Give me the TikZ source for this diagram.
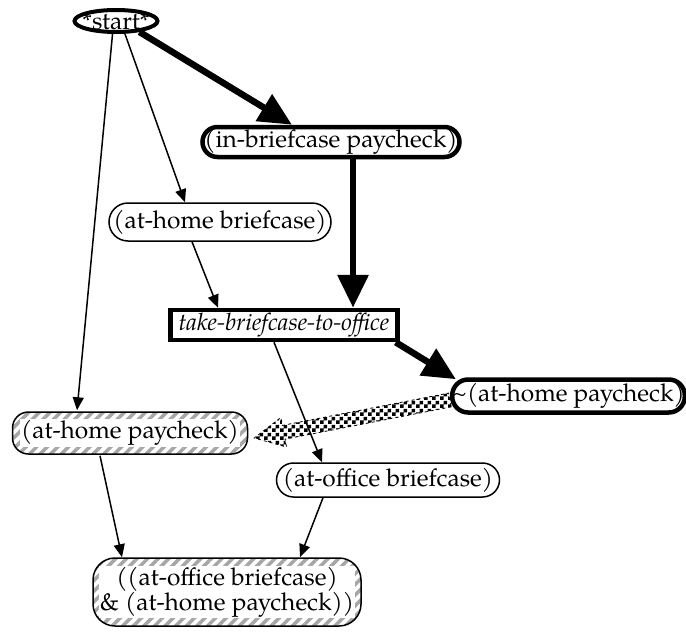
\documentclass[tikz,border=0pt]{standalone}
\usepackage{fontspec}
\setmainfont{texgyrepagella}[Extension=.otf, UprightFont=*-regular, ItalicFont=*-italic, BoldFont=*-bold, BoldItalicFont=*-bolditalic]
\usetikzlibrary{arrows.meta,shapes.geometric,patterns.meta,calc}

% black/white checks for the "negation" link
\pgfdeclarepattern{name=checks, type=uncolored,
  bottom left={\pgfpointorigin}, top right={\pgfpoint{8pt}{8pt}},
  tile size={\pgfpoint{8pt}{8pt}},
  code={\pgfpathrectangle{\pgfpointorigin}{\pgfpoint{4pt}{4pt}}%
        \pgfpathrectangle{\pgfpoint{4pt}{4pt}}{\pgfpoint{4pt}{4pt}}%
        \pgfusepath{fill}}}

\newcommand\lblsize{\fontsize{24.5}{25}\selectfont}

\begin{document}
\begin{tikzpicture}[x=1pt,y=-1pt,
  every node/.style={font=\lblsize},
  pill/.style={draw, line width=1.5pt, rounded corners=18pt, inner sep=0pt},
  boldpill/.style={draw, line width=4.5pt, rounded corners=15pt, inner sep=0pt},
  hatched/.style={draw, line width=1.5pt, rounded corners=16pt, inner sep=0pt,
    pattern={Lines[angle=45,distance=7.5pt,line width=3.5pt]}, pattern color=gray!70},
  textpatch/.style={fill=white, inner sep=1pt},
  link/.style={line width=1.5pt, -{Triangle[length=13pt,width=11pt]}},
  boldlink/.style={line width=6.5pt, -{Triangle[length=33pt,width=30pt]}}]

\useasboundingbox (0,0) rectangle (686,632);

% nodes
\node[draw, ellipse, line width=4pt, minimum width=83pt, minimum height=22pt, inner sep=0pt] (start) at (116,21) {};
\node (startlbl) at (start) {*start*};
\node[boldpill, minimum width=257pt, minimum height=30pt] (inb) at (331,142) {(in-briefcase paycheck)};
\node[pill, minimum width=222pt, minimum height=38pt, rounded corners=19pt] (ahb) at (220,222) {(at-home briefcase)};
\node[draw, line width=4.5pt, minimum width=227pt, minimum height=30pt, inner sep=0pt, font=\fontsize{24}{25}\selectfont\itshape] (take) at (284,325) {take-briefcase-to-office};
\node[boldpill, minimum width=229pt, minimum height=33pt, rounded corners=16pt] (neg) at (568.5,396) {\textasciitilde(at-home paycheck)};
\node[hatched, minimum width=235pt, minimum height=42pt] (home) at (130,433) {};
\node[textpatch] (homelbl) at (home) {(at-home paycheck)};
\node[pill, minimum width=223pt, minimum height=34pt, rounded corners=17pt] (office) at (388,480) {(at-office briefcase)};
\node[hatched, minimum width=268pt, minimum height=68pt, rounded corners=22pt] (conj) at (227,592) {};
\node[textpatch, align=center] (conjlbl) at (conj) {((at-office briefcase)\\\& (at-home paycheck))};

% links
\draw[boldlink] (start.-25) -- ([xshift=-39pt]inb.north);
\draw[link] (start.-105) -- ([xshift=-53pt]home.north);
\draw[link] (start.-55) -- ([xshift=-35pt]ahb.north);
\draw[link] ([xshift=-28pt]ahb.south) -- ([xshift=-66pt]take.north);
\draw[boldlink] ([xshift=22pt]inb.south) -- ([xshift=69pt]take.north);
\draw[boldlink] ([xshift=-4pt]take.south east) -- ([xshift=6pt,yshift=-2pt]neg.north west);
\draw[link] ([xshift=-10pt]take.south) -- ([xshift=-66pt]office.north);
\draw[link] ([xshift=-30pt]home.south) -- ([xshift=-105pt]conj.north);
\draw[link] ([xshift=-65pt]office.south) -- ([xshift=73pt]conj.north);

% checkered arrow from the negated fact back to (at-home paycheck)
\coordinate (ct) at ([yshift=-4pt]neg.west);
\coordinate (ch) at ([xshift=5pt,yshift=-5pt]home.east);
\coordinate (cb) at ($(ch)!30pt!(ct)$);
\path[pattern=checks, pattern color=black, draw, line width=0.8pt, dash pattern=on 3pt off 3pt]
  ($(ct)!7pt!90:(ch)$) -- ($(cb)!7pt!90:(ch)$) -- ($(cb)!15pt!90:(ch)$) -- (ch)
  -- ($(cb)!15pt!-90:(ch)$) -- ($(cb)!7pt!-90:(ch)$) -- ($(ct)!7pt!-90:(ch)$) -- cycle;
\end{tikzpicture}
\end{document}
